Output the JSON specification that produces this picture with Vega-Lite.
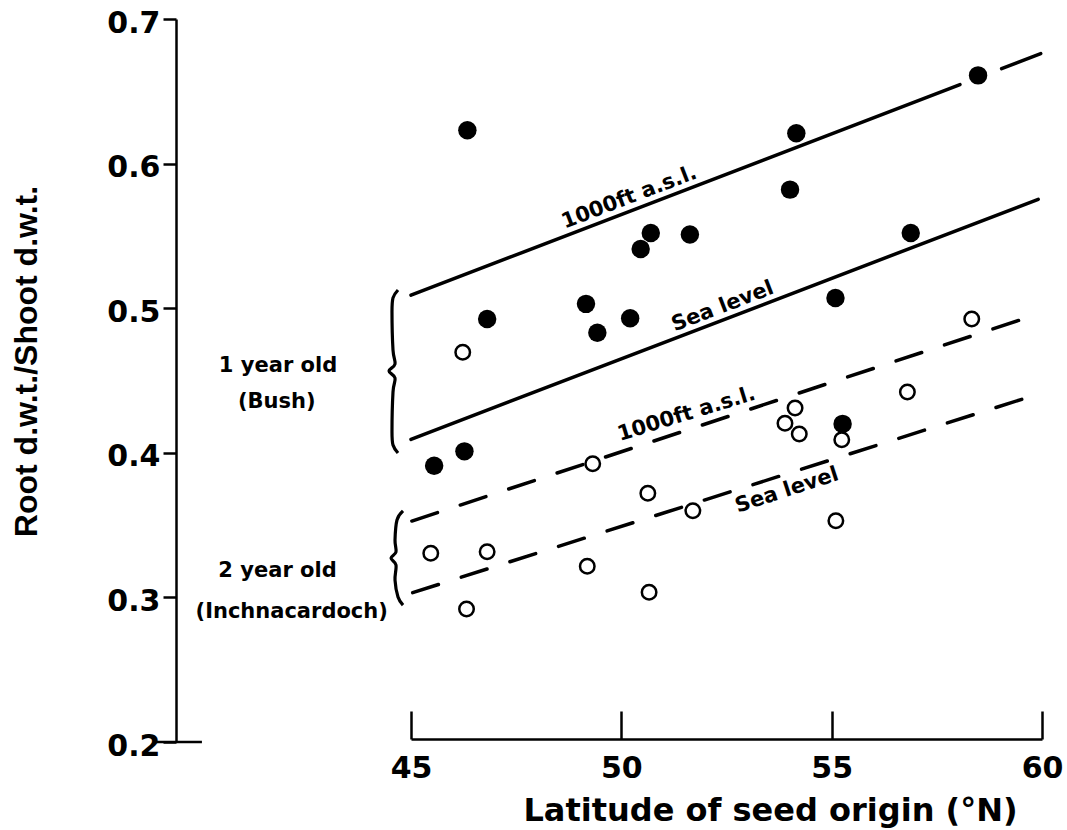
{
  "$schema": "https://vega.github.io/schema/vega-lite/v6.json",
  "width": 631,
  "height": 723,
  "autosize": {"type": "none"},
  "padding": {"left": 411, "top": 19, "right": 25, "bottom": 88},
  "background": "white",
  "config": {"view": {"stroke": null}, "font": "DejaVu Sans"},
  "datasets": {
    "points": [
      {"lat": 45.55, "ratio": 0.391, "age": "1 year old (Bush)"},
      {"lat": 46.27, "ratio": 0.401, "age": "1 year old (Bush)"},
      {"lat": 46.34, "ratio": 0.623, "age": "1 year old (Bush)"},
      {"lat": 46.81, "ratio": 0.4925, "age": "1 year old (Bush)"},
      {"lat": 49.16, "ratio": 0.503, "age": "1 year old (Bush)"},
      {"lat": 49.43, "ratio": 0.483, "age": "1 year old (Bush)"},
      {"lat": 50.21, "ratio": 0.493, "age": "1 year old (Bush)"},
      {"lat": 50.46, "ratio": 0.541, "age": "1 year old (Bush)"},
      {"lat": 50.7, "ratio": 0.552, "age": "1 year old (Bush)"},
      {"lat": 51.63, "ratio": 0.551, "age": "1 year old (Bush)"},
      {"lat": 54.01, "ratio": 0.582, "age": "1 year old (Bush)"},
      {"lat": 54.16, "ratio": 0.621, "age": "1 year old (Bush)"},
      {"lat": 55.09, "ratio": 0.507, "age": "1 year old (Bush)"},
      {"lat": 55.26, "ratio": 0.42, "age": "1 year old (Bush)"},
      {"lat": 56.88, "ratio": 0.552, "age": "1 year old (Bush)"},
      {"lat": 58.48, "ratio": 0.661, "age": "1 year old (Bush)"},
      {"lat": 46.23, "ratio": 0.4695, "age": "2 year old (Inchnacardoch)"},
      {"lat": 49.32, "ratio": 0.3925, "age": "2 year old (Inchnacardoch)"},
      {"lat": 50.63, "ratio": 0.372, "age": "2 year old (Inchnacardoch)"},
      {"lat": 51.7, "ratio": 0.36, "age": "2 year old (Inchnacardoch)"},
      {"lat": 45.47, "ratio": 0.3305, "age": "2 year old (Inchnacardoch)"},
      {"lat": 46.81, "ratio": 0.3315, "age": "2 year old (Inchnacardoch)"},
      {"lat": 49.19, "ratio": 0.3215, "age": "2 year old (Inchnacardoch)"},
      {"lat": 50.66, "ratio": 0.3035, "age": "2 year old (Inchnacardoch)"},
      {"lat": 46.32, "ratio": 0.292, "age": "2 year old (Inchnacardoch)"},
      {"lat": 58.33, "ratio": 0.4925, "age": "2 year old (Inchnacardoch)"},
      {"lat": 56.8, "ratio": 0.442, "age": "2 year old (Inchnacardoch)"},
      {"lat": 54.13, "ratio": 0.431, "age": "2 year old (Inchnacardoch)"},
      {"lat": 53.89, "ratio": 0.4205, "age": "2 year old (Inchnacardoch)"},
      {"lat": 54.23, "ratio": 0.413, "age": "2 year old (Inchnacardoch)"},
      {"lat": 55.24, "ratio": 0.409, "age": "2 year old (Inchnacardoch)"},
      {"lat": 55.1, "ratio": 0.353, "age": "2 year old (Inchnacardoch)"}
    ],
    "lines": [
      {"seg": "1yr 1000ft a", "style": "solid", "lat": 45, "ratio": 0.509},
      {"seg": "1yr 1000ft a", "style": "solid", "lat": 58.05, "ratio": 0.6546},
      {"seg": "1yr 1000ft b", "style": "solid", "lat": 59.04, "ratio": 0.6657},
      {"seg": "1yr 1000ft b", "style": "solid", "lat": 59.97, "ratio": 0.6761},
      {"seg": "1yr sea", "style": "solid", "lat": 45, "ratio": 0.4093},
      {"seg": "1yr sea", "style": "solid", "lat": 59.91, "ratio": 0.5753},
      {"seg": "2yr 1000ft", "style": "dashed", "lat": 45.02, "ratio": 0.3528},
      {"seg": "2yr 1000ft", "style": "dashed", "lat": 59.71, "ratio": 0.4941},
      {"seg": "2yr sea", "style": "dashed", "lat": 45.04, "ratio": 0.3033},
      {"seg": "2yr sea", "style": "dashed", "lat": 59.79, "ratio": 0.4395}
    ],
    "braces": [
      {"brace": "1", "i": 1, "lat": 44.691, "ratio": 0.5126},
      {"brace": "1", "i": 2, "lat": 44.572, "ratio": 0.5071},
      {"brace": "1", "i": 3, "lat": 44.548, "ratio": 0.4974},
      {"brace": "1", "i": 4, "lat": 44.572, "ratio": 0.4711},
      {"brace": "1", "i": 5, "lat": 44.62, "ratio": 0.4614},
      {"brace": "1", "i": 6, "lat": 44.477, "ratio": 0.4566},
      {"brace": "1", "i": 7, "lat": 44.62, "ratio": 0.4517},
      {"brace": "1", "i": 8, "lat": 44.572, "ratio": 0.442},
      {"brace": "1", "i": 9, "lat": 44.548, "ratio": 0.4144},
      {"brace": "1", "i": 10, "lat": 44.572, "ratio": 0.4054},
      {"brace": "1", "i": 11, "lat": 44.691, "ratio": 0.3999},
      {"brace": "2", "i": 1, "lat": 44.81, "ratio": 0.3598},
      {"brace": "2", "i": 2, "lat": 44.667, "ratio": 0.3535},
      {"brace": "2", "i": 3, "lat": 44.62, "ratio": 0.3397},
      {"brace": "2", "i": 4, "lat": 44.643, "ratio": 0.3314},
      {"brace": "2", "i": 5, "lat": 44.525, "ratio": 0.3272},
      {"brace": "2", "i": 6, "lat": 44.643, "ratio": 0.3224},
      {"brace": "2", "i": 7, "lat": 44.62, "ratio": 0.312},
      {"brace": "2", "i": 8, "lat": 44.691, "ratio": 0.3003},
      {"brace": "2", "i": 9, "lat": 44.81, "ratio": 0.2947}
    ],
    "notes": [
      {"kind": "upper", "text": "1000ft a.s.l.", "lat": 50.3, "ratio": 0.5681},
      {"kind": "upper", "text": "Sea level", "lat": 52.52, "ratio": 0.4927},
      {"kind": "mid", "text": "1000ft a.s.l.", "lat": 51.656, "ratio": 0.4167},
      {"kind": "lower", "text": "Sea level", "lat": 53.82, "ratio": 0.3845},
      {"kind": "side", "text": "1 year old", "lat": 41.839, "ratio": 0.4559},
      {"kind": "side", "text": "(Bush)", "lat": 41.808, "ratio": 0.431},
      {"kind": "side", "text": "2 year old", "lat": 41.827, "ratio": 0.3141},
      {"kind": "side", "text": "(Inchnacardoch)", "lat": 42.164, "ratio": 0.2858}
    ],
    "tickext": [
      {"lat": 38.915, "lat2": 40.03, "ratio": 0.2}
    ]
  },
  "encoding": {
    "x": {
      "field": "lat",
      "type": "quantitative",
      "scale": {"domain": [45, 60], "nice": false, "zero": false},
      "axis": {
        "values": [45, 50, 55, 60],
        "format": "d",
        "grid": false,
        "offset": -3,
        "tickSize": -28,
        "tickWidth": 2.5,
        "tickColor": "black",
        "domainWidth": 2.5,
        "domainColor": "black",
        "labelFont": "DejaVu Sans",
        "labelFontWeight": "bold",
        "labelFontSize": 30,
        "labelColor": "black",
        "labelPadding": 42,
        "labelBaseline": "top",
        "labelFlush": false,
        "labelOverlap": false,
        "title": "Latitude of seed origin (°N)",
        "titleFont": "DejaVu Sans",
        "titleFontSize": 32,
        "titleFontWeight": "bold",
        "titleColor": "black",
        "titleX": 359,
        "titleY": 81,
        "titleAlign": "center",
        "titleBaseline": "alphabetic"
      }
    },
    "y": {
      "field": "ratio",
      "type": "quantitative",
      "scale": {"domain": [0.2, 0.7], "nice": false, "zero": false},
      "axis": {
        "values": [0.2, 0.3, 0.4, 0.5, 0.6, 0.7],
        "format": ".1f",
        "grid": false,
        "offset": 235,
        "tickSize": 13,
        "tickWidth": 2.5,
        "tickColor": "black",
        "domainWidth": 2.5,
        "domainColor": "black",
        "labelFont": "DejaVu Sans",
        "labelFontWeight": "bold",
        "labelFontSize": 30,
        "labelColor": "black",
        "labelPadding": 3,
        "labelOffset": 4,
        "labelBaseline": "middle",
        "labelFlush": false,
        "labelOverlap": false,
        "title": "Root d.w.t./Shoot d.w.t.",
        "titleFont": "Liberation Sans",
        "titleFontWeight": "bold",
        "titleFontSize": 32,
        "titleColor": "black",
        "titleX": -140,
        "titleY": 342,
        "titleAngle": -90,
        "titleAlign": "center",
        "titleBaseline": "alphabetic"
      }
    }
  },
  "layer": [
    {
      "data": {"name": "lines"},
      "transform": [{"filter": "datum.style === 'solid'"}],
      "mark": {"type": "line", "color": "black", "strokeWidth": 3.5, "strokeCap": "round"},
      "encoding": {"detail": {"field": "seg"}}
    },
    {
      "data": {"name": "lines"},
      "transform": [{"filter": "datum.style === 'dashed'"}],
      "mark": {"type": "line", "color": "black", "strokeWidth": 3.5, "strokeDash": [27, 24], "strokeCap": "round"},
      "encoding": {"detail": {"field": "seg"}}
    },
    {
      "data": {"name": "braces"},
      "mark": {"type": "line", "color": "black", "strokeWidth": 3.2, "interpolate": "cardinal"},
      "encoding": {"detail": {"field": "brace"}, "order": {"field": "i"}}
    },
    {
      "data": {"name": "tickext"},
      "mark": {"type": "rule", "color": "black", "strokeWidth": 2.5},
      "encoding": {"x2": {"field": "lat2"}}
    },
    {
      "data": {"name": "points"},
      "transform": [{"filter": "datum.age === '2 year old (Inchnacardoch)'"}],
      "mark": {"type": "point", "shape": "circle", "filled": true, "fill": "white", "stroke": "black", "strokeWidth": 2.5, "size": 210, "opacity": 1}
    },
    {
      "data": {"name": "points"},
      "transform": [{"filter": "datum.age === '1 year old (Bush)'"}],
      "mark": {"type": "point", "shape": "circle", "filled": true, "color": "black", "size": 340, "opacity": 1}
    },
    {
      "data": {"name": "notes"},
      "transform": [{"filter": "datum.kind === 'upper'"}],
      "mark": {"type": "text", "font": "DejaVu Sans", "fontWeight": "bold", "fontSize": 21, "color": "black", "angle": -21, "align": "center", "baseline": "alphabetic", "dy": -7},
      "encoding": {"text": {"field": "text"}}
    },
    {
      "data": {"name": "notes"},
      "transform": [{"filter": "datum.kind === 'mid'"}],
      "mark": {"type": "text", "font": "DejaVu Sans", "fontWeight": "bold", "fontSize": 21, "color": "black", "angle": -17, "align": "center", "baseline": "alphabetic", "dy": -9},
      "encoding": {"text": {"field": "text"}}
    },
    {
      "data": {"name": "notes"},
      "transform": [{"filter": "datum.kind === 'lower'"}],
      "mark": {"type": "text", "font": "DejaVu Sans", "fontWeight": "bold", "fontSize": 21, "color": "black", "angle": -18, "align": "center", "baseline": "top", "dy": 5},
      "encoding": {"text": {"field": "text"}}
    },
    {
      "data": {"name": "notes"},
      "transform": [{"filter": "datum.kind === 'side'"}],
      "mark": {"type": "text", "font": "DejaVu Sans", "fontWeight": "bold", "fontSize": 21, "color": "black", "align": "center", "baseline": "alphabetic"},
      "encoding": {"text": {"field": "text"}}
    }
  ]
}
